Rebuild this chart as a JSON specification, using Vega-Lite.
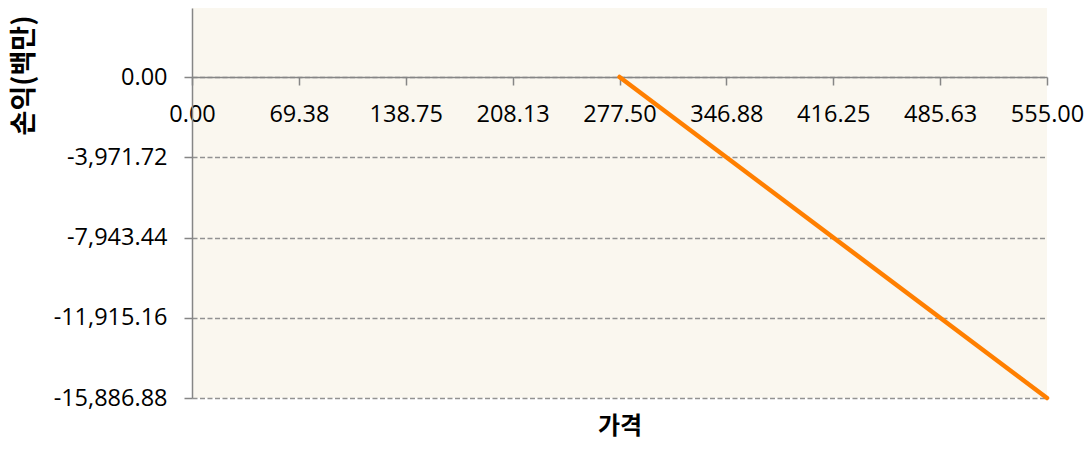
{
  "$schema": "https://vega.github.io/schema/vega-lite/v6.json",
  "width": 855,
  "height": 390,
  "autosize": "none",
  "padding": {"left": 192, "top": 8, "right": 43, "bottom": 52},
  "background": "#ffffff",
  "config": {
    "view": {"fill": "#FAF7EF", "stroke": null},
    "font": "Open Sans"
  },
  "data": {"values": [
    {"price": 277.5, "pnl": 0},
    {"price": 555, "pnl": -15886.88}
  ]},
  "mark": {"type": "line", "color": "#FF7F00", "strokeWidth": 4.5, "strokeCap": "round"},
  "encoding": {
    "x": {
      "field": "price", "type": "quantitative",
      "scale": {"domain": [0, 555], "nice": false, "zero": false},
      "axis": {
        "title": "가격",
        "titleFont": "Noto Sans CJK KR", "titleFontWeight": "bold", "titleFontSize": 24, "titleColor": "#000000",
        "titleBaseline": "middle", "titleY": 349, "titleAnchor": "middle",
        "offset": -321,
        "values": [0, 69.375, 138.75, 208.125, 277.5, 346.875, 416.25, 485.625, 555],
        "format": ".2f",
        "labelFont": "Open Sans", "labelFontSize": 23.5, "labelColor": "#000000",
        "labelPadding": 17, "labelFlush": false, "labelOverlap": false,
        "tickSize": 8, "tickColor": "#868686", "tickWidth": 1.5,
        "domainColor": "#868686", "domainWidth": 1.5,
        "grid": false
      }
    },
    "y": {
      "field": "pnl", "type": "quantitative",
      "scale": {"domain": [-15886.88, 3415], "nice": false, "zero": false},
      "axis": {
        "title": "손익(백만)",
        "titleFont": "Noto Sans CJK KR", "titleFontWeight": "bold", "titleFontSize": 27, "titleColor": "#000000",
        "titleAngle": -90, "titleBaseline": "middle", "titleAlign": "center", "titleX": -168, "titleY": 67,
        "values": [0, -3971.72, -7943.44, -11915.16, -15886.88],
        "labelExpr": "replace(format(datum.value, ',.2f'), '\u2212', '-')",
        "labelFont": "Open Sans", "labelFontSize": 23.5, "labelColor": "#000000",
        "labelPadding": 17, "labelFlush": false, "labelOverlap": false,
        "tickSize": 8, "tickColor": "#868686", "tickWidth": 1.5,
        "domainColor": "#868686", "domainWidth": 1.5,
        "grid": true, "gridColor": "#929292", "gridDash": [5, 2.5], "gridWidth": 1.5
      }
    }
  }
}
